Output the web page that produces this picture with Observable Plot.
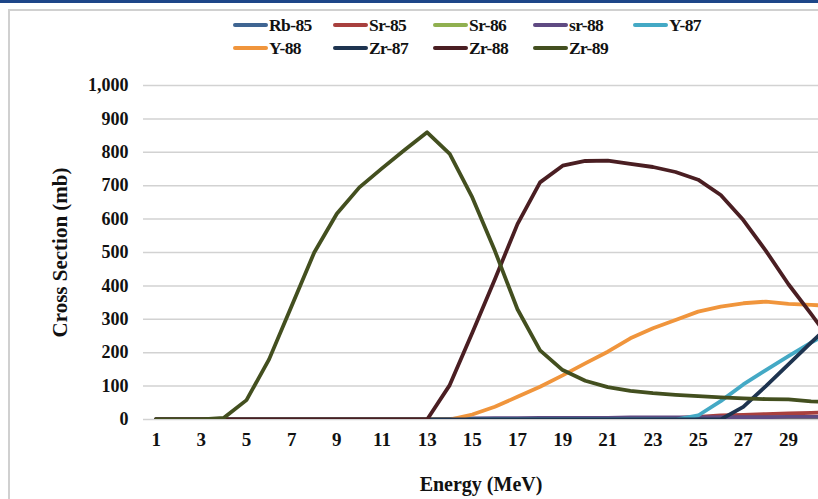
<!DOCTYPE html>
<html>
<head>
<meta charset="utf-8">
<script src="https://cdn.jsdelivr.net/npm/d3@7"></script>
<script src="https://cdn.jsdelivr.net/npm/@observablehq/plot@0.6"></script>
<style>
  body { margin: 0; background: #fff; }
  #wrap { position: relative; width: 818px; height: 499px; overflow: hidden; background: #fff;
          font-family: "Liberation Serif", "Times New Roman", serif; }
  #topbar { position: absolute; left: 0; top: 0; width: 818px; height: 3px; background: #1d4688; }
  #frame { position: absolute; left: 8px; top: 9px; width: 900px; height: 600px;
           border-left: 2px solid #d0d0d0; border-top: 2px solid #d0d0d0; }
  #chart { position: absolute; left: 0; top: 0; }
  #legend { position: absolute; left: 0; top: 0; width: 818px; height: 70px; }
  .item { position: absolute; display: flex; align-items: center; height: 20px; }
  .swatch { width: 35px; height: 4px; border-radius: 2px; margin-right: 1px; }
  .lab { font-weight: bold; font-size: 17.5px; color: #111; letter-spacing: -0.6px; }
</style>
</head>
<body>
<div id="wrap">
  <div id="topbar"></div>
  <div id="frame"></div>
  <div id="chart"></div>
  <div id="legend"></div>
</div>
<script>
// Energy categories (MeV); the 31st category lies just past the cropped right edge
const energy = d3.range(1, 32);
const xTickLabels = [1, 3, 5, 7, 9, 11, 13, 15, 17, 19, 21, 23, 25, 27, 29];
const yTickValues = [0, 100, 200, 300, 400, 500, 600, 700, 800, 900, 1000];

const seriesNames = ["Rb-85", "Sr-85", "Sr-86", "sr-88", "Y-87", "Y-88", "Zr-87", "Zr-88", "Zr-89"];
const seriesColors = ["#3f6592", "#a8403e", "#90b050", "#5f4a82", "#44a9c5", "#f0953c", "#1e3450", "#4a1e22", "#434f1f"];

// Cross sections (mb), x = 1..31
const rb85 = [0,0,0,0,0,0,0,0,0,0,0,0,0,0, 1,2,2,2,3,3,3,3,3,4,4,4,5,5,5,5,5];
const sr85 = [0,0,0,0,0,0,0,0,0,0,0,0,0,0,0,0,0,0,0,0,0,0,0, 4,8,12,14,16,18,20,22];
const sr86 = [0,0,0,0,0,0,0,0,0,0,0,0,0,0,0,0,0,0,0,0,0,0,0,0,0,0,0,0,0,0,0];
const sr88 = [0,0,0,0,0,0,0,0,0,0,0,0,0, 2,3,4,4,5,5,5,5,6,6,6,6,7,7,7,8,8,8];
const y87  = [0,0,0,0,0,0,0,0,0,0,0,0,0,0,0,0,0,0,0,0,0,0,0,0, 12,55,105,148,190,230,268];
const y88  = [0,0,0,0,0,0,0,0,0,0,0,0,0,0, 15,38,68,98,132,168,203,243,273,298,323,338,348,353,346,343,340];
const zr87 = [0,0,0,0,0,0,0,0,0,0,0,0,0,0,0,0,0,0,0,0,0,0,0,0,0,0, 38,100,165,230,293];
const zr88 = [0,0,0,0,0,0,0,0,0,0,0,0,0, 103,260,420,585,710,760,774,775,765,756,741,718,672,597,505,405,316,225];
const zr89 = [0,0,0,5,58,180,340,500,616,695,752,807,860,795,665,505,330,207,148,116,97,86,79,74,70,66,63,61,60,54,52];

const seriesValues = [rb85, sr85, sr86, sr88, y87, y88, zr87, zr88, zr89];

const rows = [];
seriesNames.forEach((name, i) => {
  seriesValues[i].forEach((v, j) => rows.push({series: name, energy: energy[j], value: v}));
});

const chart = Plot.plot({
  width: 818,
  height: 499,
  marginTop: 85,
  marginBottom: 80,
  marginLeft: 143,
  marginRight: 0,
  style: {fontFamily: "'Liberation Serif', 'Times New Roman', serif", fontWeight: "bold", color: "#111", background: "transparent"},
  x: {domain: [0.44, 30.33]},
  y: {domain: [0, 1000]},
  color: {domain: seriesNames, range: seriesColors},
  marks: [
    Plot.gridY(yTickValues, {stroke: "#d2d2d2", strokeOpacity: 1, strokeWidth: 1.5}),
    Plot.axisY(yTickValues, {tickSize: 0, tickPadding: 15, tickFormat: d3.format(","), fontSize: 18, label: null}),
    Plot.axisX(xTickLabels, {tickSize: 0, tickPadding: 13, fontSize: 19, label: null}),
    Plot.line(rows, {x: "energy", y: "value", z: "series", stroke: "series", strokeWidth: 3.8, strokeLinejoin: "round", strokeLinecap: "round", clip: true}),
    Plot.text(["Cross Section (mb)"], {text: d => d, frameAnchor: "left", dx: -83, rotate: -90, textAnchor: "middle", lineAnchor: "middle", fontSize: 21, fontWeight: "bold"}),
    Plot.text(["Energy (MeV)"], {text: d => d, frameAnchor: "bottom", dy: 65, textAnchor: "middle", lineAnchor: "middle", fontSize: 20, fontWeight: "bold"})
  ]
});
document.getElementById("chart").appendChild(chart);

// Legend
const legend = document.getElementById("legend");
seriesNames.forEach((name, i) => {
  const row = i < 5 ? 0 : 1;
  const col = i < 5 ? i : i - 5;
  const item = document.createElement("div");
  item.className = "item";
  item.style.left = (233 + 100 * col) + "px";
  item.style.top = (row === 0 ? 15 : 38) + "px";
  const sw = document.createElement("div");
  sw.className = "swatch";
  sw.style.background = seriesColors[i];
  const lab = document.createElement("span");
  lab.className = "lab";
  lab.textContent = name;
  item.appendChild(sw);
  item.appendChild(lab);
  legend.appendChild(item);
});
</script>
</body>
</html>
